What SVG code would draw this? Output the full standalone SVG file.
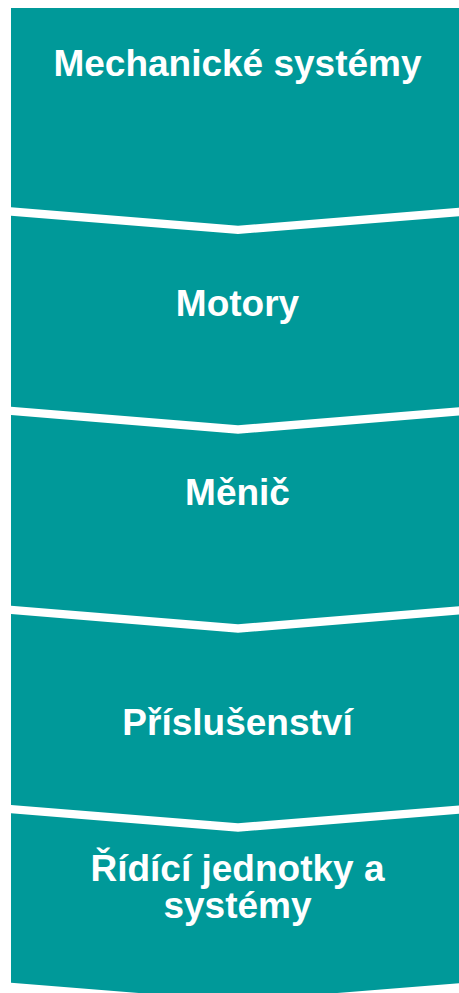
<svg xmlns="http://www.w3.org/2000/svg" width="459" height="993" viewBox="0 0 459 993">
<style>
.shape{fill:#009999;stroke:none}
.lbl{font-family:"Liberation Sans",Arial,sans-serif;font-weight:bold;font-size:37px;fill:#ffffff;text-anchor:middle}
</style>
<rect x="0" y="0" width="459" height="993" fill="#ffffff"/>
<g id="node1">
<path class="shape" d="M11,8 L465,8 L465,207.3 L238,225.7 L11,207.3 Z"/>
<text class="lbl" x="237.5" y="75.5">Mechanické systémy</text>
</g>
<g id="node2">
<path class="shape" d="M11,215.7 L238,234 L465,215.7 L465,406.7 L238,425.3 L11,406.7 Z"/>
<text class="lbl" x="237.5" y="316">Motory</text>
</g>
<g id="node3">
<path class="shape" d="M11,415 L238,433.7 L465,415 L465,605.7 L238,624.3 L11,605.7 Z"/>
<text class="lbl" x="237.5" y="504.5">Měnič</text>
</g>
<g id="node4">
<path class="shape" d="M11,614 L238,632.7 L465,614 L465,805 L238,823.3 L11,805 Z"/>
<text class="lbl" x="237.5" y="734.5">Příslušenství</text>
</g>
<g id="node5">
<path class="shape" d="M11,813.3 L238,831.7 L465,813.3 L465,982.7 L238,1001 L11,982.7 Z"/>
<text class="lbl" x="237.5" y="880.5">Řídící jednotky a</text>
<text class="lbl" x="237.5" y="918">systémy</text>
</g>
<g id="connectors"></g>
</svg>
